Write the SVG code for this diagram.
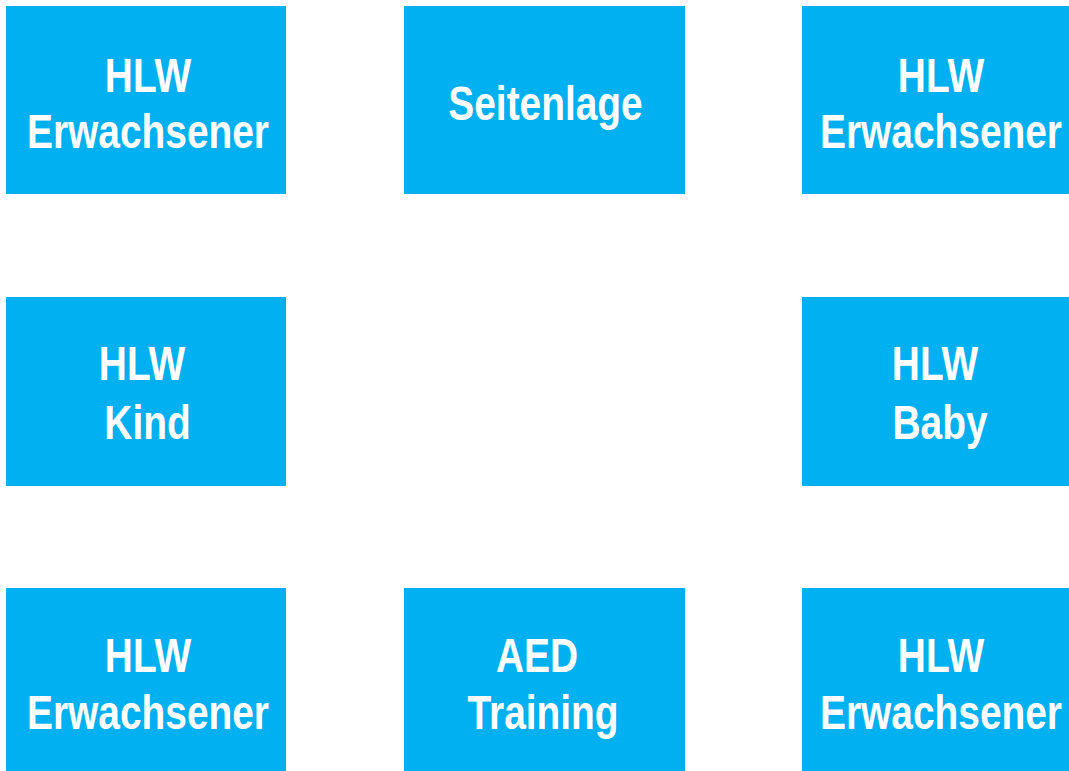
<svg xmlns="http://www.w3.org/2000/svg" width="1069" height="771" viewBox="0 0 1069 771">
<style>
.box{fill:#00B0F0;}
.lbl{fill:#FFFFFF;font-family:"Liberation Sans",Arial,sans-serif;font-weight:bold;font-size:48px;text-anchor:middle;}
</style>
<rect x="0" y="0" width="1069" height="771" fill="#FFFFFF"/>
<g id="n1"><rect class="box" x="6" y="6" width="280" height="188"/><text class="lbl" transform="translate(148 92) scale(0.81 1)">HLW</text><text class="lbl" transform="translate(148 148) scale(0.81 1)">Erwachsener</text></g>
<g id="n2"><rect class="box" x="404" y="6" width="281" height="188"/><text class="lbl" transform="translate(545.5 120) scale(0.81 1)">Seitenlage</text></g>
<g id="n3"><rect class="box" x="802" y="6" width="280" height="188"/><text class="lbl" transform="translate(941 92) scale(0.81 1)">HLW</text><text class="lbl" transform="translate(941 148) scale(0.81 1)">Erwachsener</text></g>
<g id="n4"><rect class="box" x="6" y="297" width="280" height="189"/><text class="lbl" transform="translate(142 380) scale(0.81 1)">HLW</text><text class="lbl" transform="translate(147.5 439) scale(0.81 1)">Kind</text></g>
<g id="n5"><rect class="box" x="802" y="297" width="280" height="189"/><text class="lbl" transform="translate(935 380) scale(0.81 1)">HLW</text><text class="lbl" transform="translate(940 439) scale(0.81 1)">Baby</text></g>
<g id="n6"><rect class="box" x="6" y="588" width="280" height="200"/><text class="lbl" transform="translate(148 672) scale(0.81 1)">HLW</text><text class="lbl" transform="translate(148 729) scale(0.81 1)">Erwachsener</text></g>
<g id="n7"><rect class="box" x="404" y="588" width="281" height="200"/><text class="lbl" transform="translate(537 672) scale(0.81 1)">AED</text><text class="lbl" transform="translate(543 729) scale(0.81 1)">Training</text></g>
<g id="n8"><rect class="box" x="802" y="588" width="280" height="200"/><text class="lbl" transform="translate(941 672) scale(0.81 1)">HLW</text><text class="lbl" transform="translate(941 729) scale(0.81 1)">Erwachsener</text></g>
<g id="connectors"></g>
</svg>
